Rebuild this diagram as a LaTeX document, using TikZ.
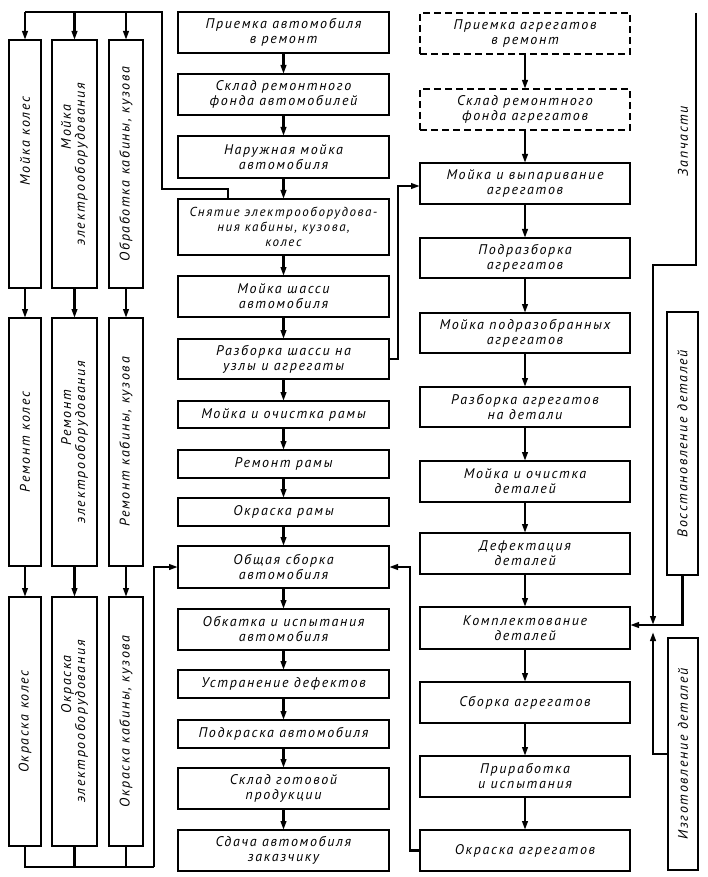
\documentclass[tikz,border=0pt]{standalone}
\usepackage{fontspec}
\newfontfamily\gost{PT Sans}[LetterSpace=12]
\usetikzlibrary{arrows.meta}
\begin{document}
\begin{tikzpicture}[x=1pt,y=-1pt,
  txt/.style={font=\gost\itshape\fontsize{14}{15}\selectfont, align=center, inner sep=1pt, outer sep=0pt},
  box/.style={txt, draw, line width=1.4pt},
  vbox/.style={box, rotate=90, font=\gost\itshape\fontsize{14}{14}\selectfont},
  conn/.style={line width=2.5pt},
  arr/.style={conn, -{Triangle[length=9pt,width=5.5pt]}}]
\useasboundingbox (0,0) rectangle (707,877);
% centre column
\tikzset{cb/.style={box, minimum width=211pt, minimum height=#1pt}}
\node[cb=41] (c1) at (283.5,32.5) {Приемка автомобиля\\в ремонт};
\node[cb=41] (c2) at (283.5,94.5) {Склад ремонтного\\фонда автомобилей};
\node[cb=42] (c3) at (283.5,157) {Наружная мойка\\автомобиля};
\node[cb=56, font=\gost\itshape\fontsize{13}{15}\selectfont] (c4) at (283.5,227) {Снятие электрооборудова-\\ния кабины, кузова,\\колес};
\node[cb=41] (c5) at (283.5,296.5) {Мойка шасси\\автомобиля};
\node[cb=40] (c6) at (283.5,359) {Разборка шасси на\\узлы и агрегаты};
\node[cb=27] (c7) at (283.5,414.5) {Мойка и очистка рамы};
\node[cb=28] (c8) at (283.5,464) {Ремонт рамы};
\node[cb=28] (c9) at (283.5,512) {Окраска рамы};
\node[cb=42] (c10) at (283.5,567) {Общая сборка\\автомобиля};
\node[cb=41] (c11) at (283.5,629.5) {Обкатка и испытания\\автомобиля};
\node[cb=28] (c12) at (283.5,684) {Устранение дефектов};
\node[cb=28] (c13) at (283.5,734) {Подкраска автомобиля};
\node[cb=41] (c14) at (283.5,788.5) {Склад готовой\\продукции};
\node[cb=41] (c15) at (283.5,850.5) {Сдача автомобиля\\заказчику};
% right column
\tikzset{rb/.style={box, minimum width=210pt, minimum height=#1pt}}
\node[rb=41, dash pattern=on 7pt off 4pt] (r1) at (525,33.5) {Приемка агрегатов\\в ремонт};
\node[rb=41, dash pattern=on 7pt off 4pt] (r2) at (525,109.5) {Склад ремонтного\\фонда агрегатов};
\node[rb=41] (r3) at (525,183.5) {Мойка и выпаривание\\агрегатов};
\node[rb=40] (r4) at (525,258) {Подразборка\\агрегатов};
\node[rb=40] (r5) at (525,333) {Мойка подразобранных\\агрегатов};
\node[rb=40] (r6) at (525,407) {Разборка агрегатов\\на детали};
\node[rb=41] (r7) at (525,481.5) {Мойка и очистка\\деталей};
\node[rb=41] (r8) at (525,553.5) {Дефектация\\деталей};
\node[rb=42] (r9) at (525,628) {Комплектование\\деталей};
\node[rb=41] (r10) at (525,702.5) {Сборка агрегатов};
\node[rb=41] (r11) at (525,776.5) {Приработка\\и испытания};
\node[rb=41] (r12) at (525,850.5) {Окраска агрегатов};
% left columns (rotated)
\tikzset{lv/.style 2 args={vbox, minimum width=#2pt, minimum height=#1pt}}
\node[lv={32}{248}] (la1) at (25,164) {\hspace*{46pt}Мойка колес};
\node[lv={45}{248}] (lb1) at (74.5,164) {\hspace*{74pt}Мойка\\электрооборудования};
\node[lv={34}{248}] (lc1) at (126,164) {Обработка кабины, кузова};
\node[lv={32}{248}] (la2) at (25,442) {Ремонт колес};
\node[lv={45}{248}] (lb2) at (74.5,442) {\hspace*{48pt}Ремонт\\электрооборудования};
\node[lv={34}{248}] (lc2) at (126,442) {Ремонт кабины, кузова};
\node[lv={32}{249}] (la3) at (25,721.5) {Окраска колес};
\node[lv={45}{249}] (lb3) at (74.5,721.5) {\hspace*{74pt}Окраска\\электрооборудования};
\node[lv={34}{249}] (lc3) at (126,721.5) {Окраска кабины, кузова};
% far right
\node[lv={31}{263}] (vos) at (682.5,443.5) {Восстановление деталей};
\node[lv={30}{232}] (izg) at (683,754) {Изготовление деталей};
\node[txt, rotate=90] (zap) at (683,141) {Запчасти};
% chains
\foreach \i/\j in {1/2,2/3,3/4,4/5,5/6,6/7,7/8,8/9,9/10,10/11,11/12,12/13,13/14,14/15}
  \draw[arr] (c\i) -- (c\j);
\foreach \i/\j in {1/2,2/3,3/4,4/5,5/6,6/7,7/8,8/9,9/10,10/11,11/12}
  \draw[arr] (r\i) -- (r\j);
\foreach \a in {a,b,c} {
  \draw[arr] (l\a1) -- (l\a2);
  \draw[arr] (l\a2) -- (l\a3);
}
% top bus
\coordinate (t0) at (228,189);
\coordinate (t1) at (162,12);
\draw[conn] (c4.north -| t0) -- (t0) -| (t1) -- (la1 |- t1);
\foreach \a in {a,b,c} \draw[arr] (l\a1 |- t1) -- (l\a1);
% bottom bus
\coordinate (bb) at (154,867);
\draw[conn] (la3) -- (la3 |- bb) -- (bb);
\draw[conn] (lb3) -- (lb3 |- bb);
\draw[conn] (lc3) -- (lc3 |- bb);
\draw[arr] (bb) |- (c10);
% chassis -> aggregates
\coordinate (k1) at (398,186);
\draw[arr] (c6.east) -| (k1) -- (k1 -| r3.west);
% aggregates -> assembly
\coordinate (k2) at (410,567);
\draw[arr] (r12.west) -| (k2) -- (c10.east);
% spare parts
\coordinate (z0) at (696,13);
\coordinate (z1) at (653,265);
\coordinate (jn) at (653,625);
\draw[arr] (z0) |- (z1) -- (jn);
\draw[arr] (vos) -- (vos |- jn) -- (r9.east |- jn);
\coordinate (i1) at (653,754);
\coordinate (i2) at (653,632);
\draw[arr] (izg) -- (i1) -- (i2);
\end{tikzpicture}
\end{document}
